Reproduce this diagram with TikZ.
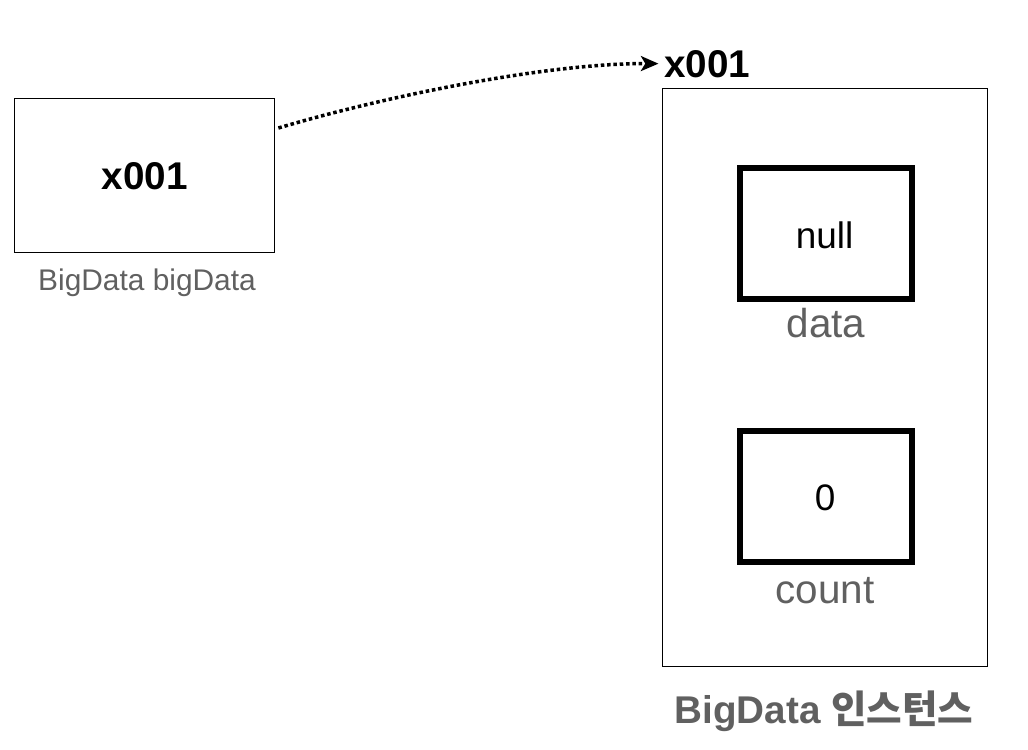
\documentclass[tikz,border=0pt]{standalone}
\usepackage{fontspec}
\setmainfont{Liberation Sans}
\newfontfamily\krfont{Noto Sans CJK KR}
\usetikzlibrary{arrows.meta,calc}
\definecolor{labelgray}{RGB}{96,96,96}
\begin{document}
\begin{tikzpicture}[
    varbox/.style={draw, line width=1pt, minimum width=5.2cm, minimum height=3.08cm, inner sep=0pt},
    heapbox/.style={draw, line width=0.8pt, minimum width=6.5cm, minimum height=11.56cm, inner sep=0pt},
    fieldbox/.style={draw, line width=3.4pt, minimum width=3.44cm, minimum height=2.62cm, inner sep=0pt},
    valtext/.style={inner sep=0pt, anchor=base, font=\fontsize{21}{24}\selectfont},
    fieldname/.style={inner sep=0pt, anchor=base, text=labelgray, font=\fontsize{23}{27}\selectfont},
    reflink/.style={line width=2pt, dash pattern=on 2pt off 1.6pt, shorten >=2pt, -{Stealth[length=10pt,width=8.5pt,inset=2.5pt]}}
]
    \useasboundingbox (0,0) rectangle (20.56,-14.98);
    % variable
    \node [varbox] (ref) at (2.89,-3.51) {};
    \node [inner sep=0pt, anchor=base, font=\fontsize{22}{26}\selectfont\bfseries] (refval) at (2.90,-3.78) {x001};
    \node [inner sep=0pt, anchor=base, text=labelgray, font=\fontsize{17}{20}\selectfont] (refname) at (2.94,-5.80) {BigData bigData};
    % instance
    \node [heapbox] (obj) at (16.50,-7.55) {};
    \node [inner sep=1pt, anchor=base west, font=\fontsize{22}{26}\selectfont\bfseries] (addr) at (13.24,-1.54) {x001};
    \node [fieldbox] (databox) at (16.52,-4.67) {};
    \node [valtext] (dataval) at (16.49,-4.96) {null};
    \node [fieldname] (dataname) at (16.52,-6.74) {data};
    \node [fieldbox] (countbox) at (16.52,-9.93) {};
    \node [valtext] (countval) at (16.50,-10.20) {0};
    \node [fieldname] (countname) at (16.50,-12.06) {count};
    \node [inner sep=0pt, anchor=base, text=labelgray, font=\fontsize{22}{26}\selectfont\bfseries] (objname) at (16.48,-14.46) {BigData {\krfont\bfseries 인스턴스}};
    % reference
    \draw [reflink] ([xshift=0.06cm,yshift=0.95cm]ref.east) .. controls (7.8,-1.9) and (11.0,-1.26) .. (addr.west);
\end{tikzpicture}
\end{document}
